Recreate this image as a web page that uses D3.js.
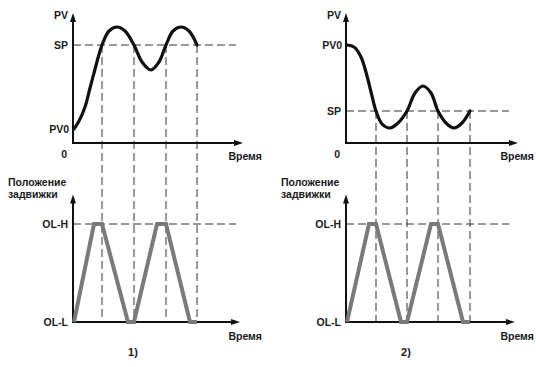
<!DOCTYPE html>
<html><head><meta charset="utf-8">
<script src="https://cdn.jsdelivr.net/npm/d3@7"></script>
<style>
html,body{margin:0;padding:0;background:#fff;}
svg text{font-family:"Liberation Sans Narrow","Arial Narrow","Liberation Sans",Arial,sans-serif;font-weight:bold;fill:#1a1a1a;}
</style></head>
<body><svg id="c" width="536" height="367"></svg>
<script>
// ---- data ----
const pvLevels1 = {PV0: 14, SP: 98};
const pvLevels2 = {PV0: 98, SP: 32};
const curve1T  = [1, 6, 12, 17, 21, 25, 29, 36, 44, 52, 61, 69, 78, 86, 93, 100, 108, 116, 124];
const curve1PV = [14, 22, 36, 55, 70, 85, 98, 112, 116, 112, 98, 81, 73, 81, 98, 112, 116, 112, 98];
const curve2T  = [1, 8, 15, 21, 26, 30, 36, 44, 52, 61, 69, 77, 85, 92, 100, 108, 116, 124];
const curve2PV = [98, 96, 86, 67, 47, 32, 19, 15, 20, 32, 50, 57, 50, 32, 20, 15, 20, 32];
const valve1T  = [1, 21, 29, 55, 61, 84, 93, 117, 124];
const valve1V  = [0, 100, 100, 0, 0, 100, 100, 0, 0];
const valve2T  = [1, 23, 30, 55, 61, 85, 92, 117, 124];
const valve2V  = [0, 100, 100, 0, 0, 100, 100, 0, 0];
const cross1 = [29, 61, 93, 124];
const cross2 = [30, 61, 92, 124];
const topLabels = ["PV", "0"];
const valveLabels = ["Положение", "задвижки"];
const valveLevelLabels = ["OL-H", "OL-L"];
const timeLabel = "Время";
const panelLabels = ["1)", "2)"];

const svg = d3.select("#c");

function arrowUp(g, x, yTip) {
  g.append("path").attr("d", `M${x},${yTip} L${x-3},${yTip+9} L${x+3},${yTip+9} Z`).attr("fill", "#111");
}
function arrowRight(g, xTip, y) {
  g.append("path").attr("d", `M${xTip},${y} L${xTip-9},${y-3} L${xTip-9},${y+3} Z`).attr("fill", "#111");
}

function panel(cfg) {
  const g = svg.append("g");
  const x = d3.scaleLinear().domain([0, 170]).range([cfg.x0, cfg.x0 + 170]);
  const yTop = d3.scaleLinear().domain([0, 128]).range([143, 15]);
  const yBot = d3.scaleLinear().domain([0, 100]).range([322, 224]);
  const xEnd = x(cfg.axisEnd);
  const dash = "8,4";

  g.append("line").attr("x1", x(0)).attr("x2", x(cfg.dashEnd))
    .attr("y1", yTop(cfg.levels.SP)).attr("y2", yTop(cfg.levels.SP))
    .attr("stroke", "#333").attr("stroke-width", 1).attr("stroke-dasharray", dash);
  g.append("line").attr("x1", x(0)).attr("x2", x(cfg.dashEnd))
    .attr("y1", yBot(100)).attr("y2", yBot(100))
    .attr("stroke", "#333").attr("stroke-width", 1).attr("stroke-dasharray", dash);
  g.selectAll(".vd").data(cfg.cross).enter().append("line")
    .attr("x1", d => x(d)).attr("x2", d => x(d))
    .attr("y1", yTop(cfg.levels.SP)).attr("y2", yBot(0))
    .attr("stroke", "#333").attr("stroke-width", 1).attr("stroke-dasharray", dash);

  g.append("line").attr("x1", x(0)).attr("x2", x(0)).attr("y1", yTop(0)+1).attr("y2", yTop(128)+6)
    .attr("stroke", "#111").attr("stroke-width", 2);
  arrowUp(g, x(0), yTop(128) - 2);
  g.append("line").attr("x1", x(0)-1).attr("x2", xEnd-6).attr("y1", yTop(0)).attr("y2", yTop(0))
    .attr("stroke", "#111").attr("stroke-width", 2);
  arrowRight(g, xEnd, yTop(0));

  g.append("line").attr("x1", x(0)).attr("x2", x(0)).attr("y1", yBot(0)+1).attr("y2", yBot(128)+6)
    .attr("stroke", "#111").attr("stroke-width", 2);
  arrowUp(g, x(0), yBot(128) - 2);
  g.append("line").attr("x1", x(0)-1).attr("x2", xEnd-9).attr("y1", yBot(0)).attr("y2", yBot(0))
    .attr("stroke", "#111").attr("stroke-width", 2);
  arrowRight(g, xEnd - 3, yBot(0));

  const line = d3.line().x(d => x(d[0])).y(d => yTop(d[1])).curve(d3.curveCatmullRom.alpha(0.5));
  g.append("path").datum(d3.zip(cfg.cT, cfg.cPV)).attr("d", line)
    .attr("fill", "none").attr("stroke", "#111").attr("stroke-width", 3.2).attr("stroke-linecap", "round");

  const vline = d3.line().x(d => x(d[0])).y(d => yBot(d[1]));
  g.append("path").datum(d3.zip(cfg.vT, cfg.vV)).attr("d", vline)
    .attr("fill", "none").attr("stroke", "#7a7a7a").attr("stroke-width", 4).attr("stroke-linejoin", "miter");

  const fs = 10.5;
  const lab = (t, xx, yy, anchor, size) => g.append("text").text(t).attr("x", xx).attr("y", yy)
    .attr("text-anchor", anchor || "end").attr("font-size", size || fs);
  lab(topLabels[0], x(0) - 5, yTop(128) + 4);
  lab("SP", x(0) - 5, yTop(cfg.levels.SP) + 4);
  lab("PV0", x(0) - 4, yTop(cfg.levels.PV0) + 4);
  lab(topLabels[1], x(0) - 6, yTop(0) + 15);
  lab(timeLabel, x(cfg.timeEnd), yTop(0) + 17, "end");
  lab(valveLabels[0], x(0) - 65, 186, "start");
  lab(valveLabels[1], x(0) - 65, 198, "start");
  lab(valveLevelLabels[0], x(0) - 5, yBot(100) + 4);
  lab(valveLevelLabels[1], x(0) - 5, yBot(0) + 4);
  lab(timeLabel, x(cfg.timeEnd), yBot(0) + 18, "end");
  lab(cfg.panelLabel, x(60), 356, "middle", 11);
}

panel({x0: 73, axisEnd: 170, dashEnd: 163, timeEnd: 189, levels: pvLevels1, cT: curve1T, cPV: curve1PV,
       vT: valve1T, vV: valve1V, cross: cross1, panelLabel: panelLabels[0]});
panel({x0: 346, axisEnd: 172, dashEnd: 163, timeEnd: 188, levels: pvLevels2, cT: curve2T, cPV: curve2PV,
       vT: valve2T, vV: valve2V, cross: cross2, panelLabel: panelLabels[1]});
</script></body></html>
